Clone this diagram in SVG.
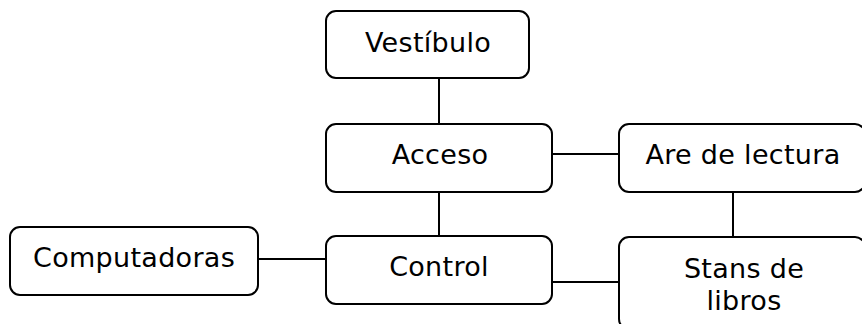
<svg xmlns="http://www.w3.org/2000/svg" width="862" height="324" viewBox="0 0 862 324">
<style>
.box{fill:#fff;stroke:#000;stroke-width:2}
.lbl{font-family:"DejaVu Sans",Verdana,sans-serif;font-size:27px;letter-spacing:0.3px;fill:#000;text-anchor:middle}
.con{stroke:#000;stroke-width:2;fill:none}
</style>
<rect width="862" height="324" fill="#fff"/>
<g id="connectors">
<line class="con" x1="439" y1="78" x2="439" y2="124"/>
<line class="con" x1="552" y1="154" x2="619" y2="154"/>
<line class="con" x1="439" y1="192" x2="439" y2="236"/>
<line class="con" x1="258" y1="259" x2="326" y2="259"/>
<line class="con" x1="733" y1="192" x2="733" y2="237"/>
<line class="con" x1="552" y1="282" x2="619" y2="282"/>
</g>
<g id="vestibulo">
<rect class="box" x="326" y="11" width="203" height="67" rx="10"/>
<text class="lbl" x="428" y="52">Vestíbulo</text>
</g>
<g id="acceso">
<rect class="box" x="326" y="124" width="226" height="68" rx="10"/>
<text class="lbl" x="440" y="164">Acceso</text>
</g>
<g id="lectura">
<rect class="box" x="619" y="124" width="246" height="68" rx="10"/>
<text class="lbl" x="743" y="164">Are de lectura</text>
</g>
<g id="computadoras">
<rect class="box" x="10" y="227" width="248" height="68" rx="10"/>
<text class="lbl" x="134" y="267">Computadoras</text>
</g>
<g id="control">
<rect class="box" x="326" y="236" width="226" height="68" rx="10"/>
<text class="lbl" x="439" y="276">Control</text>
</g>
<g id="stans">
<rect class="box" x="619" y="237" width="246" height="92" rx="10"/>
<text class="lbl" x="744" y="278">Stans de</text>
<text class="lbl" x="744" y="310">libros</text>
</g>
</svg>
